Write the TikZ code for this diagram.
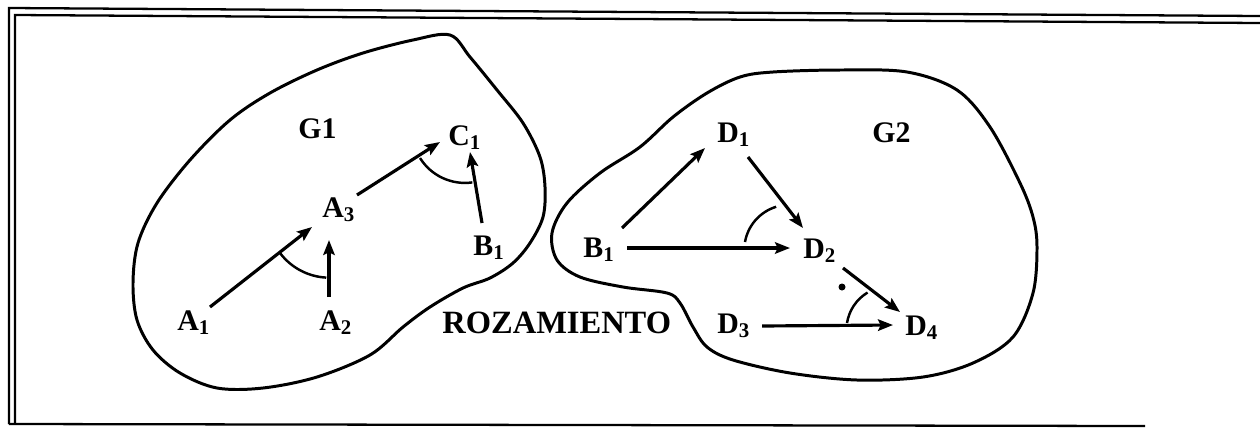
\documentclass[tikz,border=0pt]{standalone}
\usepackage{fontspec}
\setmainfont{Liberation Serif}
\usetikzlibrary{arrows.meta,calc}
\begin{document}
\begin{tikzpicture}[x=0.02cm,y=-0.02cm,
  lbl/.style={anchor=base west,inner sep=0pt,font=\bfseries\fontsize{17}{20}\selectfont},
  arr/.style={line width=1.8pt,-{Stealth[length=8.5pt,width=6.5pt,inset=1.5pt]}},
  blob/.style={line width=1.7pt},
  anglemark/.style={line width=1.4pt},
  frame/.style={line width=1.3pt}]
\useasboundingbox (0,0) rectangle (1260,427);
% frame
\draw[frame] (9,424) -- (9,8) -- (1260,16);
\draw[frame] (15,424) -- (15,15) -- (1260,23);
\draw[frame] (9,424) -- (1145,426);
% G1 region
\draw[blob] plot[smooth cycle, tension=0.55] coordinates {
 (450,35) (470,57) (497,90) (523,123) (540,157) (545,187) (543,217) (530,243)
 (513,263) (490,278) (463,288) (430,307) (403,327) (370,355) (317,377) (263,388)
 (217,388) (180,373) (153,350) (137,320) (133,283) (138,243) (157,203) (190,160)
 (230,120) (270,93) (317,70) (363,53) (413,40)};
% G2 region
\draw[blob] plot[smooth cycle, tension=0.55] coordinates {
 (740,77) (773,72) (840,70) (907,72) (957,90) (990,127) (1020,183) (1033,217)
 (1037,247) (1033,293) (1013,337) (973,363) (923,377) (857,380) (790,373) (733,360)
 (707,347) (693,327) (680,303) (667,293) (623,287) (580,277) (557,260) (552,233)
 (567,203) (600,173) (640,147) (673,117) (707,93)};
% labels
\node[lbl] (G1) at (298,138) {G1};
\node[lbl] (C1) at (448,145) {C\textsubscript{1}};
\node[lbl] (A3) at (322,217) {A\textsubscript{3}};
\node[lbl] (B1) at (473,255) {B\textsubscript{1}};
\node[lbl] (A1) at (177,330) {A\textsubscript{1}};
\node[lbl] (A2) at (319,330) {A\textsubscript{2}};
\node[lbl,font=\bfseries\fontsize{18.5}{22}\selectfont] (ROZ) at (442,333) {ROZAMIENTO};
\node[lbl] (D1) at (717,142) {D\textsubscript{1}};
\node[lbl] (G2) at (872,142) {G2};
\node[lbl] (BB) at (583,257) {B\textsubscript{1}};
\node[lbl] (D2) at (803,258) {D\textsubscript{2}};
\node[lbl] (D3) at (717,333) {D\textsubscript{3}};
\node[lbl] (D4) at (905,335) {D\textsubscript{4}};
% arrows G1
\draw[arr] ($(A1.base west)+(33,-23)$) -- ($(A3.base west)+(-10,10)$);
\draw[arr] ($(A2.base west)+(10,-33)$) -- ($(A3.base west)+(7,23)$);
\draw[arr] ($(A3.base west)+(35,-22)$) -- ($(C1.base west)+(-8,-3)$);
\draw[arr] ($(B1.base west)+(9,-32)$) -- ($(C1.base west)+(22,7)$);
% arrows G2
\draw[arr] ($(BB.base west)+(39,-29)$) -- ($(D1.base west)+(-12,6)$);
\draw[arr] ($(D1.base west)+(31,15)$) -- ($(D2.base west)+(0,-30)$);
\draw[arr] ($(BB.base west)+(44,-9)$) -- ($(D2.base west)+(-13,-10)$);
\draw[arr] ($(D2.base west)+(40,10)$) -- ($(D4.base west)+(-5,-23)$);
\draw[arr] ($(D3.base west)+(45,-7)$) -- ($(D4.base west)+(-12,-10)$);
% angle marks
\draw[anglemark] (280,253) arc[start angle=143, end angle=93, radius=62];
\draw[anglemark] (420,158) arc[start angle=148, end angle=82, radius=53];
\draw[anglemark] (745,242) arc[start angle=190, end angle=253, radius=45];
\draw[anglemark] (847,323) arc[start angle=189, end angle=239, radius=43.5];
\fill (842,287) circle[radius=3.5];
\end{tikzpicture}
\end{document}
